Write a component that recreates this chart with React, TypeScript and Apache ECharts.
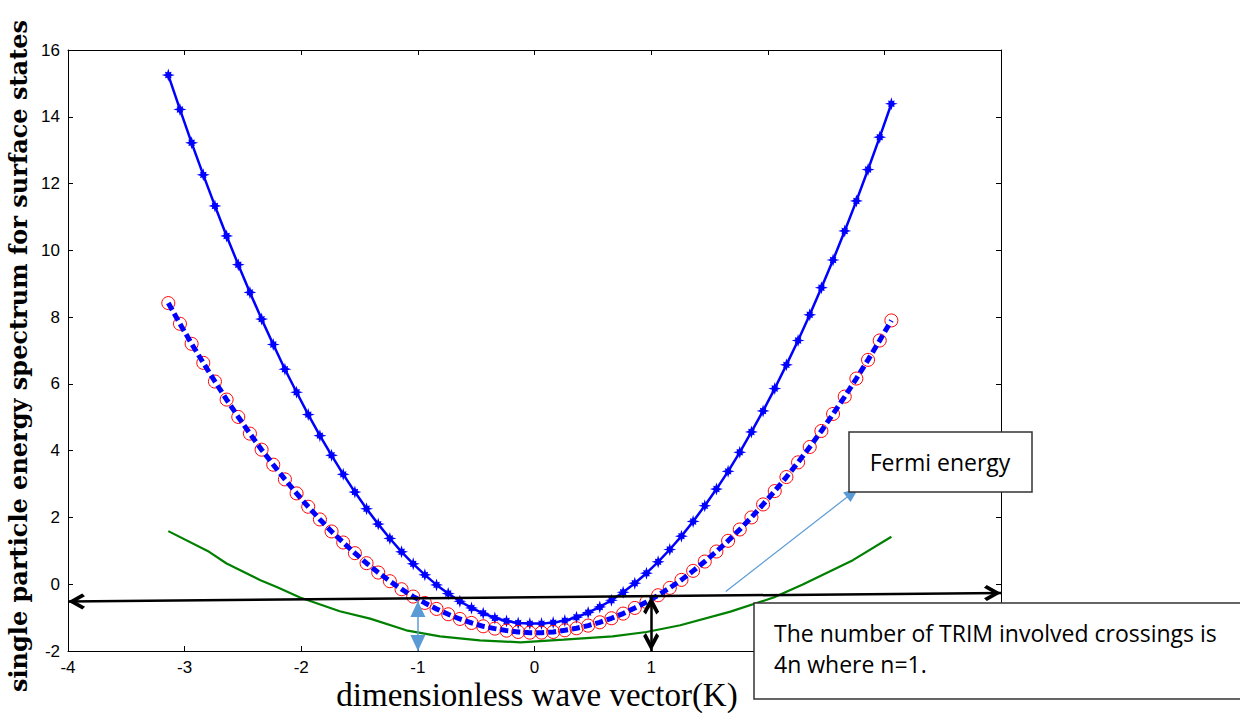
import React, { useEffect, useRef } from 'react';
import * as echarts from 'echarts';

// dimensionless wave vector samples (K)
const kValues = [
  -3.14, -3.04, -2.94, -2.84, -2.74, -2.64, -2.54, -2.44, -2.34, -2.24,
  -2.14, -2.04, -1.94, -1.84, -1.74, -1.64, -1.54, -1.44, -1.34, -1.24,
  -1.14, -1.04, -0.94, -0.84, -0.74, -0.64, -0.54, -0.44, -0.34, -0.24,
  -0.14, -0.04, 0.06, 0.16, 0.26, 0.36, 0.46, 0.56, 0.66, 0.76,
  0.86, 0.96, 1.06, 1.16, 1.26, 1.36, 1.46, 1.56, 1.66, 1.76,
  1.86, 1.96, 2.06, 2.16, 2.26, 2.36, 2.46, 2.56, 2.66, 2.76,
  2.86, 2.96, 3.06,
];

// upper band (blue stars)
const upperBand = [
  15.25, 14.22, 13.22, 12.26, 11.33, 10.43, 9.57, 8.74, 7.94, 7.18,
  6.44, 5.75, 5.08, 4.45, 3.86, 3.29, 2.76, 2.26, 1.80, 1.37,
  0.97, 0.61, 0.28, -0.02, -0.28, -0.51, -0.71, -0.87, -1.01, -1.10,
  -1.16, -1.18, -1.18, -1.15, -1.09, -0.99, -0.85, -0.68, -0.48, -0.24,
  0.03, 0.33, 0.67, 1.04, 1.44, 1.88, 2.35, 2.85, 3.38, 3.95,
  4.56, 5.19, 5.86, 6.57, 7.30, 8.07, 8.88, 9.71, 10.58, 11.48,
  12.42, 13.39, 14.39,
];

// lower band (red circles + blue dashed)
const lowerBand = [
  8.42, 7.80, 7.20, 6.63, 6.07, 5.53, 5.01, 4.51, 4.03, 3.58,
  3.14, 2.72, 2.32, 1.94, 1.58, 1.25, 0.93, 0.63, 0.35, 0.09,
  -0.15, -0.37, -0.56, -0.74, -0.90, -1.04, -1.16, -1.26, -1.33, -1.39,
  -1.43, -1.45, -1.45, -1.43, -1.38, -1.32, -1.24, -1.14, -1.02, -0.88,
  -0.71, -0.53, -0.33, -0.11, 0.13, 0.40, 0.68, 0.98, 1.30, 1.64,
  2.00, 2.39, 2.79, 3.21, 3.65, 4.11, 4.59, 5.10, 5.62, 6.16,
  6.72, 7.30, 7.90,
];

// green curve
const greenK = [-3.14, -2.79, -2.64, -2.35, -2.21, -2.01, -1.67, -1.41, -1.10, -0.81, -0.47, -0.12, 0.25, 0.67, 0.96, 1.25, 1.68, 2.05, 2.30, 2.73, 3.06];
const greenE = [1.59, 0.97, 0.62, 0.12, -0.08, -0.40, -0.81, -1.03, -1.38, -1.56, -1.68, -1.74, -1.66, -1.56, -1.43, -1.23, -0.82, -0.40, -0.01, 0.72, 1.42];

// annotation arrows [k, E] (tip positions)
const fermiLine = [[-4, -0.52], [4, -0.26]];
const blueDoubleArrow = [[-1, -0.5], [-1, -2]];
const blackDoubleArrow = [[1, -0.37], [1, -2]];
const fermiPointer = [[1.64, -0.22], [2.78, 2.88]];

const xMin = -4, xMax = 4, xStep = 1;
const yMin = -2, yMax = 16, yStep = 2;
// x tick labels hidden behind the TRIM annotation box
const hiddenXTicks = [2, 3, 4];

const yLabel = 'single particle energy spectrum for surface states';
const xLabel = 'dimensionless wave vector(K)';
const fermiText = 'Fermi energy';
const trimText = 'The number of TRIM involved crossings is\n4n where n=1.';

const starPath =
  'path://M10,0 L4.2,1.7 L4.95,4.95 L1.7,4.2 L0,10 L-1.7,4.2 L-4.95,4.95 L-4.2,1.7 L-10,0 L-4.2,-1.7 L-4.95,-4.95 L-1.7,-4.2 L0,-10 L1.7,-4.2 L4.95,-4.95 L4.2,-1.7 Z';
const chevronPath = 'path://M10,0 L20,13 L16.5,15.5 L10,7 L3.5,15.5 L0,13 Z';

function arrowSeries(pts: number[][], from: string, to: string, size: number[], color: string, width: number) {
  const end = (p: number[], sym: string) => ({
    coord: p,
    symbol: sym,
    symbolSize: size,
    symbolOffset: [0, '50%'],
  });
  return {
    type: 'line',
    data: [],
    symbol: 'none',
    z: 6,
    markLine: {
      silent: true,
      animation: false,
      label: { show: false },
      lineStyle: { color, width, type: 'solid' },
      itemStyle: { color },
      data: [[end(pts[0], from), end(pts[1], to)]],
    },
  };
}

export default function App() {
  const ref = useRef<HTMLDivElement>(null);
  useEffect(() => {
    if (!ref.current) return;
    const chart = echarts.init(ref.current, undefined, { renderer: 'svg' });
    const pair = (xs: number[], ys: number[]) => xs.map((x, i) => [x, ys[i]]);
    const axisCommon = {
      axisLine: { show: true, onZero: false, lineStyle: { color: '#000', width: 1 } },
      axisTick: { show: true, inside: true, length: 5, lineStyle: { color: '#000' } },
      splitLine: { show: false },
    };
    const labelStyle = { color: '#000', fontSize: 17, fontFamily: 'Liberation Sans, Arial, sans-serif' };
    chart.setOption({
      animation: false,
      backgroundColor: '#fff',
      grid: { left: 68, right: 239, top: 50, bottom: 62 },
      xAxis: [
        { type: 'value', min: xMin, max: xMax, interval: xStep, position: 'bottom', ...axisCommon,
          axisLabel: { ...labelStyle, margin: 8,
            formatter: (v: number) => (hiddenXTicks.includes(v) ? '' : String(v)) } },
        { type: 'value', min: xMin, max: xMax, interval: xStep, position: 'top', ...axisCommon,
          axisLabel: { show: false } },
      ],
      yAxis: [
        { type: 'value', min: yMin, max: yMax, interval: yStep, position: 'left', ...axisCommon,
          axisLabel: { ...labelStyle, margin: 8 } },
        { type: 'value', min: yMin, max: yMax, interval: yStep, position: 'right', ...axisCommon,
          axisLabel: { show: false } },
      ],
      series: [
        {
          type: 'line', name: 'green', data: pair(greenK, greenE), showSymbol: false, symbol: 'none',
          lineStyle: { color: '#008000', width: 2.2 }, z: 2,
        },
        {
          type: 'line', name: 'upper', data: pair(kValues, upperBand), symbol: starPath, symbolSize: 13,
          itemStyle: { color: '#0000ff' }, lineStyle: { color: '#0000ff', width: 2.5 }, z: 3,
        },
        {
          type: 'line', name: 'lowerCircles', data: pair(kValues, lowerBand), symbol: 'circle', symbolSize: 13,
          itemStyle: { color: 'rgba(255,255,255,0)', borderColor: '#ff0000', borderWidth: 1 },
          lineStyle: { width: 0, opacity: 0 }, z: 3,
        },
        {
          type: 'line', name: 'lowerDashed', data: pair(kValues, lowerBand), symbol: 'none',
          lineStyle: { color: '#0000ff', width: 5, type: [8, 4] }, z: 4,
        },
        arrowSeries(fermiLine, chevronPath, chevronPath, [16, 17], '#000', 2.5),
        arrowSeries(blueDoubleArrow, 'triangle', 'triangle', [15, 16], '#5B9BD5', 1.5),
        arrowSeries(blackDoubleArrow, chevronPath, chevronPath, [16, 18], '#000', 2.5),
        arrowSeries(fermiPointer, 'none', 'triangle', [12, 15], '#5B9BD5', 1.2),
      ],
      graphic: [
        {
          type: 'text', x: 18, y: 356, rotation: Math.PI / 2, z: 10,
          style: { text: yLabel, fill: '#000', font: 'bold 24px "DejaVu Serif", serif', align: 'center', verticalAlign: 'middle' },
        },
        {
          type: 'text', x: 537, y: 695, z: 10,
          style: { text: xLabel, fill: '#000', font: '33px "Liberation Serif", serif', align: 'center', verticalAlign: 'middle' },
        },
        {
          type: 'rect', shape: { x: 849, y: 432, width: 183, height: 60 }, z: 20,
          style: { fill: '#fff', stroke: '#333', lineWidth: 1.5 },
        },
        {
          type: 'text', x: 940, y: 462, z: 21,
          style: { text: fermiText, fill: '#000', font: '23px "Open Sans", sans-serif', align: 'center', verticalAlign: 'middle' },
        },
        {
          type: 'rect', shape: { x: 754, y: 603, width: 500, height: 96 }, z: 20,
          style: { fill: '#fff', stroke: '#333', lineWidth: 1.5 },
        },
        {
          type: 'text', x: 774, y: 648, z: 21,
          style: { text: trimText, fill: '#000', font: '23px "Open Sans", sans-serif', align: 'left', verticalAlign: 'middle', lineHeight: 31 },
        },
      ],
    });
    return () => chart.dispose();
  }, []);
  return <div ref={ref} style={{ position: 'absolute', left: 0, top: 0, width: 1240, height: 713 }} />;
}
